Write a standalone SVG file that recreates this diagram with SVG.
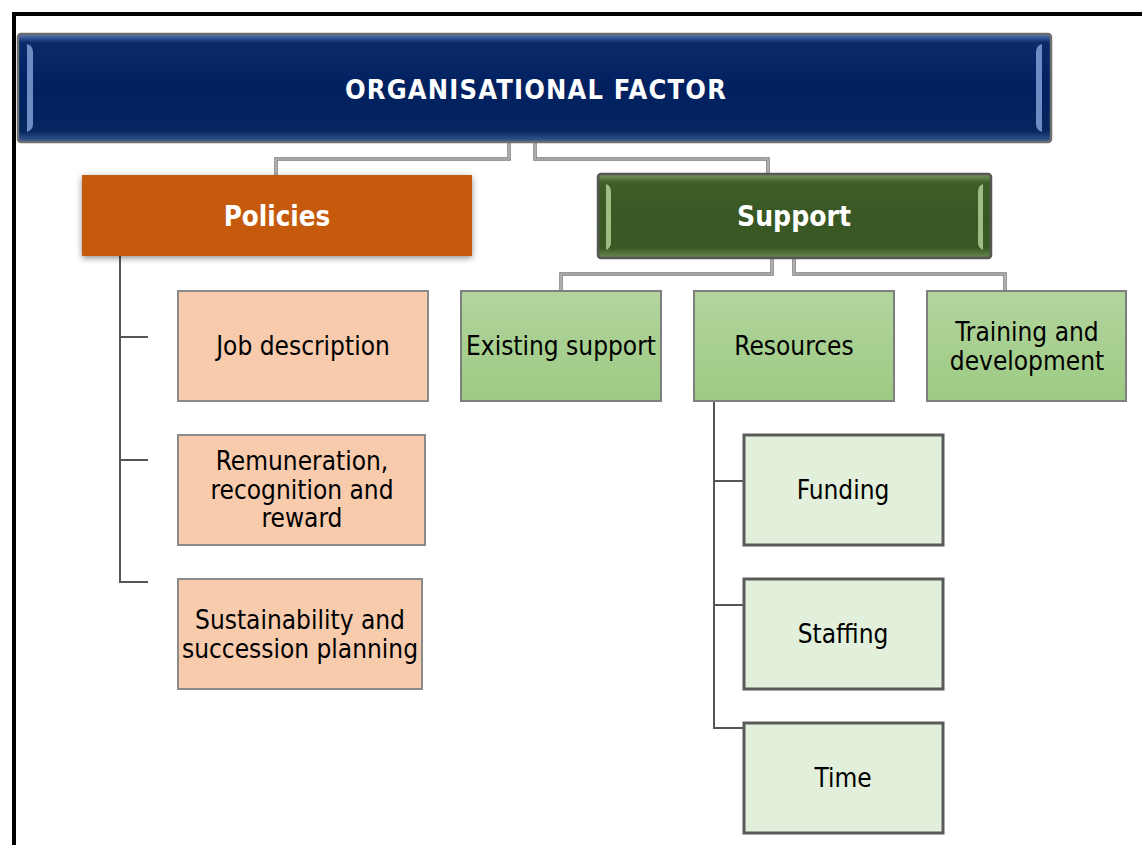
<svg xmlns="http://www.w3.org/2000/svg" width="1142" height="845" viewBox="0 0 1142 845">
  <defs>
    <style>
      .lbl { font-family: "DejaVu Sans Condensed", "DejaVu Sans", sans-serif; font-stretch: condensed; font-size: 26px; fill: #000; text-anchor: middle; }
      .head { font-family: "DejaVu Sans Condensed", "DejaVu Sans", sans-serif; font-stretch: condensed; font-weight: bold; fill: #fff; text-anchor: middle; }
      .conn-out { fill: none; stroke: #7a7a7a; stroke-width: 3.5; }
      .conn-in { fill: none; stroke: #d0d0d0; stroke-width: 1.2; }
      .tick { fill: none; stroke: #555; stroke-width: 2; }
      .peach { fill: #f8cbad; stroke: #8a8a8a; stroke-width: 2; }
      .mid { fill: url(#midGreen); stroke: #7f7f7f; stroke-width: 2; }
      .pale { fill: #e2efda; stroke: #5a5a5a; stroke-width: 3; }
    </style>
    <linearGradient id="midGreen" x1="0" y1="0" x2="0" y2="1">
      <stop offset="0" stop-color="#b2d59d"/>
      <stop offset="1" stop-color="#9dca84"/>
    </linearGradient>
    <linearGradient id="navyBevel" x1="0" y1="0" x2="0" y2="1">
      <stop offset="0" stop-color="#5a7cb8"/>
      <stop offset="0.08" stop-color="#0a2a6a"/>
      <stop offset="0.5" stop-color="#002060"/>
      <stop offset="0.9" stop-color="#05265f"/>
      <stop offset="1" stop-color="#3d5e9a"/>
    </linearGradient>
    <linearGradient id="greenBevel" x1="0" y1="0" x2="0" y2="1">
      <stop offset="0" stop-color="#7d9b63"/>
      <stop offset="0.1" stop-color="#3f5f28"/>
      <stop offset="0.5" stop-color="#385723"/>
      <stop offset="0.88" stop-color="#3a5a25"/>
      <stop offset="1" stop-color="#6c8a52"/>
    </linearGradient>
    <filter id="shadow" x="-10%" y="-20%" width="120%" height="150%">
      <feDropShadow dx="0" dy="2" stdDeviation="3" flood-color="#000" flood-opacity="0.45"/>
    </filter>
  </defs>

  <rect width="1142" height="845" fill="#fff"/>
  <!-- page frame -->
  <path d="M14,845 V14 H1142" fill="none" stroke="#000" stroke-width="4"/>

  <!-- connectors -->
  <g id="connectors">
    <path class="conn-out" d="M509,143 V159 H276 V175 M535,143 V159 H768 V174"/>
    <path class="conn-in" d="M509,143 V159 H276 V175 M535,143 V159 H768 V174"/>
    <path class="conn-out" d="M772,259 V274 H561 V290 M794,259 V274 H1005 V290"/>
    <path class="conn-in" d="M772,259 V274 H561 V290 M794,259 V274 H1005 V290"/>
    <path class="tick" d="M120,256 V582 H148 M120,337 H148 M120,460 H148"/>
    <path class="tick" d="M714,401 V728 H743 M714,481 H743 M714,605 H743"/>
  </g>

  <!-- top node -->
  <g id="organisational-factor">
    <rect x="18" y="34" width="1033" height="108" rx="3" fill="url(#navyBevel)" stroke="#6e6e6e" stroke-width="2.5"/>
    <path d="M27,44 Q33,46 33,52 V124 Q33,130 27,132 Z" fill="#7f9fd6" opacity="0.85"/>
    <path d="M1042,44 Q1036,46 1036,52 V124 Q1036,130 1042,132 Z" fill="#7f9fd6" opacity="0.85"/>
    <text class="head" x="536" y="99" font-size="27" letter-spacing="1.2">ORGANISATIONAL FACTOR</text>
  </g>

  <!-- Policies branch -->
  <g id="policies">
    <rect x="82" y="175" width="390" height="81" fill="#c55a11" filter="url(#shadow)"/>
    <text class="head" x="277" y="226" font-size="27.5">Policies</text>
  </g>
  <g id="job-description">
    <rect class="peach" x="178" y="291" width="250" height="110"/>
    <text class="lbl" x="303" y="355">Job description</text>
  </g>
  <g id="remuneration">
    <rect class="peach" x="178" y="435" width="247" height="110"/>
    <text class="lbl" x="302" y="470">Remuneration,</text>
    <text class="lbl" x="302" y="499">recognition and</text>
    <text class="lbl" x="302" y="527">reward</text>
  </g>
  <g id="sustainability">
    <rect class="peach" x="178" y="579" width="244" height="110"/>
    <text class="lbl" x="300" y="629">Sustainability and</text>
    <text class="lbl" x="300" y="658">succession planning</text>
  </g>

  <!-- Support branch -->
  <g id="support">
    <rect x="598" y="174" width="393" height="84" rx="3" fill="url(#greenBevel)" stroke="#555" stroke-width="2.5"/>
    <path d="M606,184 Q611,186 611,192 V242 Q611,248 606,250 Z" fill="#a9c98e" opacity="0.9"/>
    <path d="M983,184 Q978,186 978,192 V242 Q978,248 983,250 Z" fill="#a9c98e" opacity="0.9"/>
    <text class="head" x="794" y="226" font-size="28">Support</text>
  </g>
  <g id="existing-support">
    <rect class="mid" x="461" y="291" width="200" height="110"/>
    <text class="lbl" x="561" y="355">Existing support</text>
  </g>
  <g id="resources">
    <rect class="mid" x="694" y="291" width="200" height="110"/>
    <text class="lbl" x="794" y="355">Resources</text>
  </g>
  <g id="training">
    <rect class="mid" x="927" y="291" width="199" height="110"/>
    <text class="lbl" x="1027" y="341">Training and</text>
    <text class="lbl" x="1027" y="370">development</text>
  </g>
  <g id="funding">
    <rect class="pale" x="744" y="435" width="199" height="110"/>
    <text class="lbl" x="843" y="499">Funding</text>
  </g>
  <g id="staffing">
    <rect class="pale" x="744" y="579" width="199" height="110"/>
    <text class="lbl" x="843" y="643">Staffing</text>
  </g>
  <g id="time">
    <rect class="pale" x="744" y="723" width="199" height="110"/>
    <text class="lbl" x="843" y="787">Time</text>
  </g>
</svg>
